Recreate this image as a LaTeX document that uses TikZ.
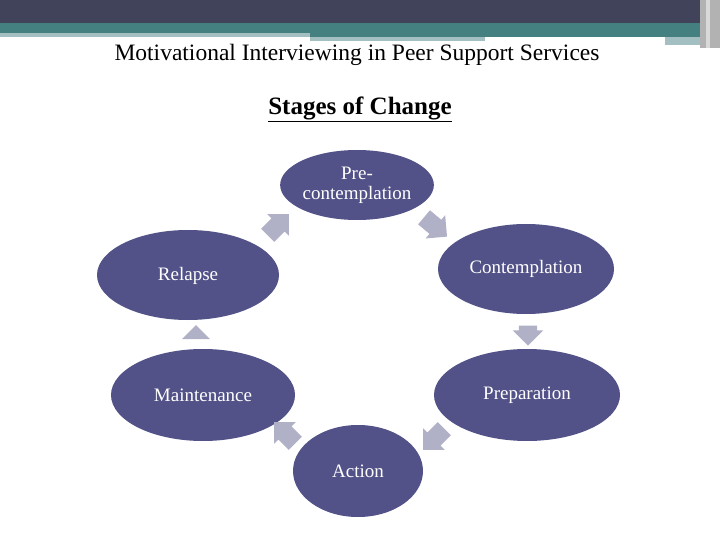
\documentclass[tikz,border=0pt]{standalone}
\usepackage{fontspec}
\setmainfont{Liberation Serif}
\usetikzlibrary{shapes.geometric,shapes.arrows}
\definecolor{dark}{HTML}{41435A}
\definecolor{teal}{HTML}{44807F}
\definecolor{lteal}{HTML}{A3BFC2}
\definecolor{stage}{HTML}{525288}
\definecolor{arr}{HTML}{B0B0C6}
\tikzset{
 stagebox/.style={ellipse,fill=stage,text=white,font=\fontsize{19}{20}\selectfont,inner sep=0pt,align=center},
 stagetext/.style={font=\fontsize{19}{20}\selectfont,text=white},
 blockarrow/.style={single arrow,fill=arr,minimum height=30pt,minimum width=30pt,single arrow head extend=6pt,inner xsep=0pt,inner ysep=9pt}
}
\begin{document}
\begin{tikzpicture}[x=1pt,y=-1pt]
\useasboundingbox[fill=white] (0,0) rectangle (720,540);
% header
\fill[dark] (0,0) rectangle (700,23);
\fill[teal] (0,23) rectangle (700,33);
\fill[lteal] (0,33) rectangle (310,37);
\fill[teal] (310,33) rectangle (700,37);
\fill[lteal] (310,37) rectangle (485,41);
\fill[lteal] (665,37) rectangle (700,45);
\fill[gray!60] (700,0) rectangle (720,48);
\fill[gray!30] (706,0) rectangle (710,48);
\node[font=\fontsize{23.5}{25}\selectfont] (hdr) at (357,55) {Motivational Interviewing in Peer Support Services};
\node[font=\bfseries\fontsize{25}{27}\selectfont] (ttl) at (360,109) {\underline{Stages of Change}};
% stages
\node[stagebox,minimum width=144pt,minimum height=70pt] (pre) at (357,185) {Pre-\\contemplation};
\node[stagebox,minimum width=176pt,minimum height=90pt] (con) at (526,269) {};
\node[stagetext] (conl) at (526,269) {Contemplation};
\node[stagebox,minimum width=182pt,minimum height=90pt] (rel) at (188,275) {};
\node[stagetext] (rell) at (188,276) {Relapse};
\node[stagebox,minimum width=186pt,minimum height=92pt] (prep) at (527,395) {Preparation};
\node[stagebox,minimum width=184pt,minimum height=92pt] (mai) at (203,395) {Maintenance};
\node[stagebox,minimum width=130pt,minimum height=92pt] (act) at (358,471) {};
\node[stagetext] (actl) at (358,471) {Action};
% block arrows
\node[blockarrow,rotate=45] (a1) at (275,228) {};
\node[blockarrow,rotate=-40] (a2) at (432,224) {};
\node[blockarrow,rotate=-90,minimum height=20pt] (a3) at (528,331) {};
\node[blockarrow,rotate=-135] (a4) at (437,436) {};
\node[blockarrow,rotate=135] (a5) at (288,436) {};
\node[blockarrow,rotate=90,minimum height=14pt,minimum width=28pt,inner ysep=7pt] (a6) at (196,336) {};
\end{tikzpicture}
\end{document}
